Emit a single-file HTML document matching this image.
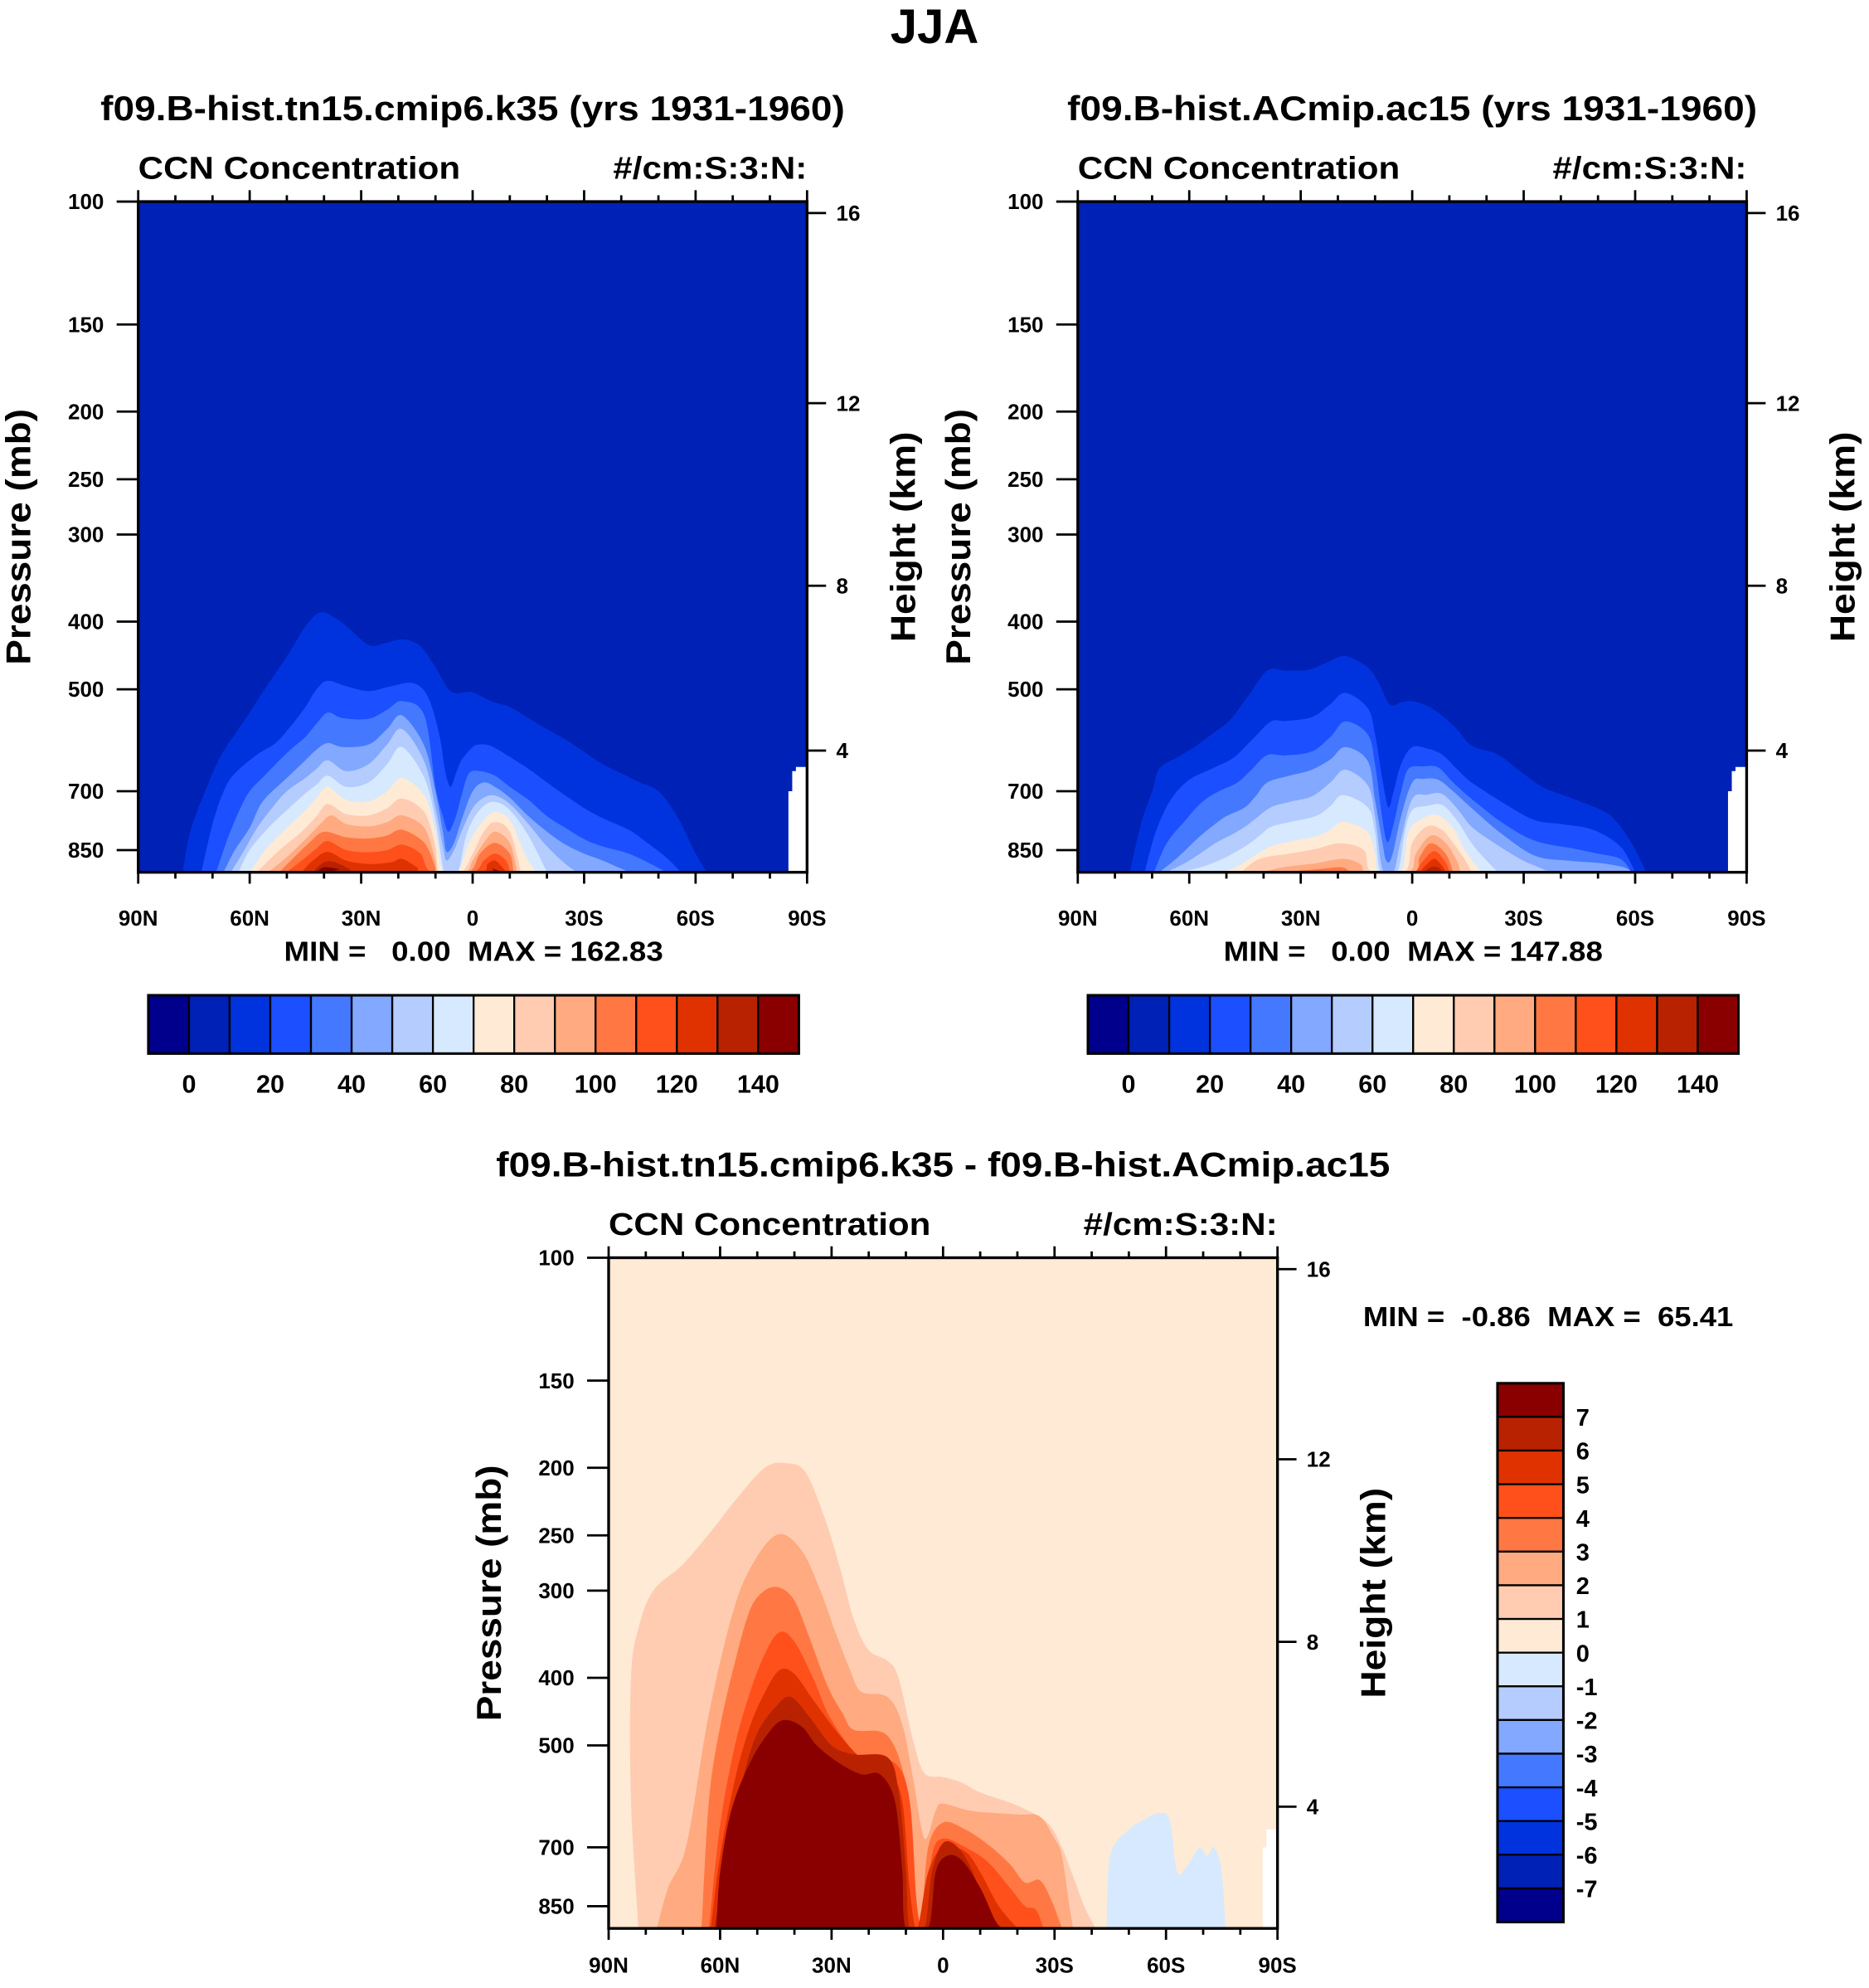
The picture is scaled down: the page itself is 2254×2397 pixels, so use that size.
<!DOCTYPE html>
<html><head><meta charset="utf-8">
<style>
html,body{margin:0;padding:0;background:#fff;}
svg{display:block;}
text{font-family:"Liberation Sans",sans-serif;font-weight:bold;fill:#000;}
</style></head>
<body>
<svg id="chart" xmlns="http://www.w3.org/2000/svg" width="2254" height="2397" viewBox="0 0 1474 1568" preserveAspectRatio="none">
<text x="737" y="34" font-size="38" text-anchor="middle">JJA</text>
<g id="panels"></g>
</svg>
<script>
// ---- colour scale (16 boxes) ----
const colors = ["#00008C","#0021B5","#0033DD","#1C4FFF","#4478FF","#82A8FF","#B4CCFF","#D6E9FF","#FFEAD6","#FFCCB2","#FFAA80","#FF7844","#FF501C","#E03200","#B82200","#8A0000"];
const topCbarLabels = ["0","20","40","60","80","100","120","140"];
const diffCbarLabels = ["7","6","5","4","3","2","1","0","-1","-2","-3","-4","-5","-6","-7"];
const xTickLabels = ["90N","60N","30N","0","30S","60S","90S"];
const pTicks = [100,150,200,250,300,400,500,700,850];
const hTickLabels = ["16","12","8","4"];
const P_BOT = 914;

// ---- tn15 panel: contour boundaries [lat, pressure(mb)] ----
const tn15L3 = [[78,914],[76,800],[72,700],[68,626],[64,580],[60,540],[56,500],[53,474],[49,440],[45,406],[41,388],[37,395],[34,406],[28,432],[24,430],[19,424],[15,430],[13,440],[10,465],[6,503],[2,505],[0,505],[-5,520],[-10,530],[-15,550],[-20,570],[-25,590],[-30,615],[-35,640],[-40,660],[-45,680],[-50,700],[-55,760],[-60,860],[-63,914]];
const tn15L4 = [[73,914],[70,780],[67,700],[64,660],[58,620],[53,597],[49,565],[45,530],[42,500],[39,486],[34,495],[28,503],[22,495],[16,490],[12,513],[9,580],[7.5,650],[6,690],[4.5,660],[3,632],[0,605],[-2,600],[-5,603],[-10,625],[-15,650],[-20,680],[-25,710],[-30,740],[-35,765],[-42,795],[-47,830],[-52,870],[-56,914]];
const tn15L5 = [[69,914],[66,820],[63,750],[60,700],[56,665],[53,640],[49,610],[45,585],[42,560],[39,540],[35,550],[28,551],[23,535],[19,520],[13,545],[10,690],[8,760],[6.5,800],[4.5,760],[3,710],[1,660],[-2,655],[-6,665],[-10,690],[-15,720],[-20,760],[-25,790],[-30,820],[-35,840],[-42,860],[-48,890],[-52,914]];
const tn15L6 = [[67,914],[64,850],[60,790],[56.5,724],[50,670],[45,632],[42,610],[39,597],[35,605],[28,600],[23,570],[19,545],[13,603],[10,700],[8,800],[7,855],[5,830],[3,770],[0,700],[-3,680],[-6,690],[-10,715],[-15,760],[-20,800],[-25,835],[-30,860],[-35,880],[-42,914]];
const tn15L7 = [[65,914],[62,860],[58,790],[54,740],[50,700],[45,670],[42,650],[39,632],[34,655],[28,640],[23,600],[19,570],[13,635],[10,740],[8,840],[7,880],[5,850],[3,800],[0,740],[-3,715],[-6,710],[-10,730],[-15,780],[-20,840],[-25,890],[-28,914]];
const tn15L8 = [[63,914],[60,850],[55,790],[50,745],[45,705],[42,685],[39,665],[34,690],[28,680],[23,640],[19,605],[13,670],[10,770],[8,900],[7,914],[4,914],[2,820],[0,770],[-3,735],[-6,725],[-10,745],[-15,810],[-20,914]];
const tn15L9 = [[60,914],[55,840],[50,790],[45,745],[42,715],[39,690],[34,720],[28,724],[23,700],[19,670],[13,710],[10,800],[8,914],[4,914],[1,830],[-3,770],[-6,750],[-10,770],[-14,860],[-17,914]];
const tn15L10 = [[58,914],[52,850],[46,800],[42,760],[39,730],[34,755],[28,758],[23,740],[19,717],[13,750],[10,840],[9,914],[3,914],[0,860],[-3,800],[-6,775],[-10,800],[-13,914]];
const tn15L11 = [[55,914],[50,870],[45,820],[41,780],[38,758],[34,780],[28,786],[23,775],[19,758],[13,790],[10,880],[9.5,914],[2,914],[0,880],[-3,830],[-6,800],[-10,830],[-12,914]];
const tn15L12 = [[52,914],[48,870],[44,830],[40,800],[34,815],[28,818],[23,810],[19,795],[13,830],[10,900],[9.5,914],[1,914],[-2,860],[-6,830],[-10,860],[-11,914]];
const tn15L13 = [[50,914],[46,880],[42,845],[39,825],[34,850],[28,856],[23,850],[19,835],[14,860],[11,914],[0,914],[-3,880],[-6,860],[-9,880],[-10,914]];
const tn15L14 = [[46,914],[43,880],[39,855],[34,880],[28,890],[22,885],[19,875],[15,900],[13,914],[-2,914],[-4,890],[-6,880],[-8,900],[-9,914]];
const tn15L15 = [[43,914],[40,885],[37,885],[33,905],[30,914],[-3,914],[-5,900],[-7,914]];
const tn15L16 = [[42,914],[40,900],[36,905],[34,914],[-4,914],[-5,905],[-6,914]];
const tn15Levels = [tn15L3,tn15L4,tn15L5,tn15L6,tn15L7,tn15L8,tn15L9,tn15L10,tn15L11,tn15L12,tn15L13,tn15L14,tn15L15,tn15L16];

// ---- ac15 panel ----
const ac15L3 = [[76,914],[73,780],[70,700],[68,649],[63,625],[58,602],[53,575],[49,553],[44,510],[39,470],[34,470],[28,469],[23,458],[18,448],[12,465],[9,490],[6,526],[3,522],[0,520],[-4,528],[-8,545],[-12,570],[-16,602],[-23,620],[-29,655],[-35,690],[-41,710],[-47,730],[-52,750],[-55,774],[-59,830],[-63,914]];
const ac15L4 = [[72,914],[69,800],[65,720],[60,674],[54,650],[48,626],[43,590],[38,556],[34,555],[27,548],[22,525],[18,506],[12,532],[10,580],[8,674],[6.4,738],[5,700],[3,640],[0,605],[-4,608],[-8,620],[-12,650],[-16,680],[-25,730],[-33,770],[-40,780],[-47,790],[-52,810],[-56,840],[-58,870],[-60,914]];
const ac15L5 = [[69.5,914],[66,830],[61,770],[56.5,725],[52,700],[47,680],[43,650],[39,621],[34,622],[27,614],[22,585],[18,556],[12,580],[10,640],[8.2,755],[6.7,828],[5,780],[3,700],[1,650],[-3,645],[-7,647],[-11,680],[-16,718],[-24,775],[-33,824],[-44,847],[-50,860],[-56,875],[-59,914]];
const ac15L6 = [[68,914],[63,870],[58,820],[54,787],[50,760],[45,738],[42,710],[39,680],[33,665],[27,652],[22,630],[18,605],[12,633],[10,720],[8,830],[7,880],[5.5,870],[3,760],[0,680],[-3,672],[-7,674],[-11,700],[-16,740],[-24,805],[-33,866],[-42,880],[-51,888],[-57,900],[-59,914]];
const ac15L7 = [[66,914],[60,880],[53,831],[49,810],[45,787],[42,765],[38,738],[33,725],[27,712],[22,680],[18,652],[12,686],[10,760],[8.5,880],[7.5,914],[5,914],[3,820],[0,718],[-4,708],[-8,706],[-12,740],[-16,787],[-22,830],[-29,875],[-33,895],[-37,914]];
const ac15L8 = [[63,914],[57,900],[51,875],[45,840],[41,810],[38,787],[33,775],[26,760],[22,735],[18.6,709],[12,738],[10,800],[8.5,914],[4,914],[2,800],[0,745],[-4,735],[-8,732],[-12,770],[-16,831],[-20,880],[-23,914]];
const ac15L9 = [[52,914],[48,903],[43,870],[38,840],[32,825],[26,813],[22,795],[18.6,774],[12,801],[10,860],[9,914],[3,914],[1,800],[-3,765],[-7,758],[-11,790],[-14,847],[-18.5,914]];
const ac15L10 = [[46,914],[41,875],[33,860],[26,847],[19.4,831],[13,850],[11,914],[2,914],[0,830],[-4,786],[-8,795],[-11,830],[-14,875],[-16,914]];
const ac15L11 = [[40,914],[35,900],[26,888],[18.6,875],[14,890],[12,914],[1,914],[-1,860],[-5,810],[-9,830],[-12,880],[-13,914]];
const ac15L12 = [[35,914],[25,905],[19,900],[15,914],[0,914],[-2,870],[-5,831],[-9,860],[-11,914]];
const ac15L13 = [[-1,914],[-3,880],[-6,853],[-9,885],[-10,914]];
const ac15L14 = [[-2,914],[-4,890],[-6,875],[-8,895],[-9,914]];
const ac15L15 = [[-3,914],[-5,900],[-7,900],[-8,914]];
const ac15Levels = [ac15L3,ac15L4,ac15L5,ac15L6,ac15L7,ac15L8,ac15L9,ac15L10,ac15L11,ac15L12,ac15L13,ac15L14,ac15L15];

// ---- difference panel ----
const diffL10 = [[82,914],[84,600],[84,400],[82,340],[78,300],[70,275],[62,245],[56,223],[48,200],[42,197],[37,203],[32,235],[28,275],[24,330],[20,365],[15,378],[12,400],[8,493],[5,548],[0,555],[-5,565],[-10,584],[-20,610],[-28,645],[-32,700],[-35,770],[-38,850],[-41,914]];
const diffL11 = [[77,914],[74,800],[69,693],[63,450],[56,315],[50,268],[44,249],[38,263],[33,300],[29,344],[25,390],[22,419],[15,426],[11,466],[8,560],[5,680],[2,620],[0,606],[-8,621],[-20,628],[-26,632],[-30,680],[-32,720],[-34,850],[-35,914]];
const diffL12 = [[65,914],[63,600],[60,470],[56,380],[52,320],[48,300],[44,297],[40,310],[36,350],[31,412],[27,450],[24,475],[15,484],[10,569],[8,750],[6,900],[4,700],[0,645],[-6,660],[-12,693],[-18,740],[-22,786],[-26,780],[-29,830],[-32,914]];
const diffL13 = [[63,914],[60,650],[56,500],[52,420],[48,370],[44,344],[40,355],[35,400],[31,450],[26,495],[22,520],[13,530],[9,600],[7,850],[5,914],[3,720],[0,680],[-6,700],[-12,734],[-18,800],[-22,849],[-25,860],[-27,914]];
const diffL14 = [[62.5,914],[60,720],[56,560],[52,470],[48,420],[44,390],[40,395],[35,430],[29,475],[24,510],[20,530],[15,540],[11,600],[9,800],[7,914],[4,760],[0,700],[-6,710],[-10,760],[-15,850],[-20,914]];
const diffL15 = [[61.5,914],[58,700],[54,560],[50,480],[45,440],[41,426],[36,455],[30,500],[24,515],[15,520],[12,580],[10,750],[9,914],[5,914],[3,760],[0,690],[-4,700],[-8,760],[-12,880],[-14,914]];
const diffL16 = [[61,914],[60,760],[57,620],[52,530],[47,480],[43,460],[38,470],[34,500],[28,530],[22,550],[17,550],[13,600],[11,750],[10,914],[4,914],[2,760],[-1,720],[-5,730],[-10,800],[-14,890],[-16,914]];
const diffLevels = [diffL10,diffL11,diffL12,diffL13,diffL14,diffL15,diffL16];
const diffNeg = [[-44,914],[-45,720],[-50,660],[-54,640],[-58,625],[-61,640],[-63,760],[-66,740],[-69,700],[-71,720],[-73,700],[-75,760],[-76,914]];
const missingTop = [[-85,914],[-85,700],[-86,700],[-86,655],[-87,655],[-87,646],[-90,646],[-90,914]];
const missingDiff = [[-86,914],[-86,700],[-87,700],[-87,660],[-90,660],[-90,914]];

const NS = "http://www.w3.org/2000/svg";
const root = document.getElementById("panels");
function mk(tag, attrs, parent){const e=document.createElementNS(NS,tag);for(const k in attrs)e.setAttribute(k,attrs[k]);(parent||root).appendChild(e);return e;}
function txt(s, attrs, parent){const e=mk("text",attrs,parent);e.textContent=s;return e;}

function panel(id, fx, fy, opts){
  const W=527.5, H=529;
  const xs = lat => fx + (90-lat)/180*W;
  const ys = p => fy + 239*Math.log(p/100);
  const g = mk("g",{});
  
  
  const clip = mk("clipPath",{id:id+"-clip"},g);
  mk("rect",{x:fx,y:fy,width:W,height:H},clip);
  const plot = mk("g",{"clip-path":"url(#"+id+"-clip)"},g);
  const bg = mk("rect",{x:fx,y:fy,width:W,height:H,fill:colors[opts.base]},plot);
  
  
  function smoothPath(arr){
    const pts = arr.map(d=>[xs(d[0]), Math.min(ys(d[1]), fy+H)]);
    let d = "M"+pts[0][0].toFixed(1)+","+(fy+H+3)+" L"+pts[0][0].toFixed(1)+","+pts[0][1].toFixed(1);
    for(let i=0;i<pts.length-1;i++){
      const p0=pts[i-1]||pts[i], p1=pts[i], p2=pts[i+1], p3=pts[i+2]||pts[i+1];
      const c1=[p1[0]+(p2[0]-p0[0])/6, p1[1]+(p2[1]-p0[1])/6];
      const c2=[p2[0]-(p3[0]-p1[0])/6, p2[1]-(p3[1]-p1[1])/6];
      d+=" C"+c1[0].toFixed(1)+","+c1[1].toFixed(1)+" "+c2[0].toFixed(1)+","+c2[1].toFixed(1)+" "+p2[0].toFixed(1)+","+p2[1].toFixed(1);
    }
    d+=" L"+pts[pts.length-1][0].toFixed(1)+","+(fy+H+3)+" Z";
    return d;
  }
  opts.levels.forEach((lv,i)=>{
    const path = mk("path",{d:smoothPath(lv),fill:colors[opts.first+i]},plot);
    
    
  });
  if(opts.neg){
    const np = mk("path",{d:smoothPath(opts.neg),fill:colors[7]},plot);
    
    
  }
  const mpts = opts.missing.map(d=>xs(d[0]).toFixed(1)+","+Math.min(ys(d[1]),fy+H).toFixed(1)).join(" ");
  const miss = mk("polygon",{points:mpts,fill:"#fff"},plot);
  
  
  const fr = mk("rect",{x:fx,y:fy,width:W,height:H,fill:"none",stroke:"#000","stroke-width":2.2},g);
  
  
  for(let lat=90; lat>=-90; lat-=10){
    const major = lat%30===0;
    const L = major?9:5;
    const x = xs(lat);
    mk("line",{x1:x,y1:fy+H,x2:x,y2:fy+H+L,stroke:"#000","stroke-width":1.8},g);
    mk("line",{x1:x,y1:fy,x2:x,y2:fy-L,stroke:"#000","stroke-width":1.8},g);
  }
  xTickLabels.forEach((s,i)=>{
    const t = txt(s,{x:fx+i*W/6,y:fy+H+42-(opts.cond?7:0),"font-size":17,"text-anchor":"middle"},g);
    
    
  });
  pTicks.forEach(p=>{
    const y = ys(p);
    mk("line",{x1:fx-17,y1:y,x2:fx,y2:y,stroke:"#000","stroke-width":1.8},g);
    const t = txt(String(p),{x:fx-27,y:y+6,"font-size":17,"text-anchor":"end"},g);
    
    
  });
  const hOff=[9,159,303,433];
  hTickLabels.forEach((s,i)=>{
    const y = fy+hOff[i];
    mk("line",{x1:fx+W,y1:y,x2:fx+W+15,y2:y,stroke:"#000","stroke-width":1.8},g);
    const t = txt(s,{x:fx+W+23,y:y+6,"font-size":17},g);
    
    
  });
  const cx = fx+W/2, cy = fy+H/2;
  function fitText(s, attrs, len, name){
    const t = txt(s, attrs, g);
    t.setAttribute("textLength",len);
    t.setAttribute("lengthAdjust","spacingAndGlyphs");
    
    
    return t;
  }
  fitText(opts.title,{x:cx,y:fy-64,"font-size":27,"text-anchor":"middle"},opts.titleLen,'panel-title');
  fitText("CCN Concentration",{x:fx,y:fy-18,"font-size":25},254,'left-string');
  fitText("#/cm:S:3:N:",{x:fx+W,y:fy-18,"font-size":25,"text-anchor":"end"},153,'right-string');
  fitText("Pressure (mb)",{x:0,y:0,"font-size":27,"text-anchor":"middle",transform:"translate("+(fx-85)+","+cy+") rotate(-90)"},202,'y-axis-title');
  fitText("Height (km)",{x:0,y:0,"font-size":27,"text-anchor":"middle",transform:"translate("+(fx+W+85)+","+cy+") rotate(-90)"},166,'right-axis-title');
  return g;
}

function topCbar(x0, y0){
  const g = mk("g",{});
  
  
  const bw = 513/16;
  colors.forEach((c,i)=>{
    const r = mk("rect",{x:x0+i*bw,y:y0,width:bw,height:46,fill:c,stroke:"#000","stroke-width":1.5},g);
    
    
  });
  mk("rect",{x:x0,y:y0,width:513,height:46,fill:"none",stroke:"#000","stroke-width":2},g);
  topCbarLabels.forEach((s,i)=>{
    const t = txt(s,{x:x0+(1+2*i)*bw,y:y0+77,"font-size":20,"text-anchor":"middle"},g);
    
    
  });
}

panel("tn15",109,159,{title:"f09.B-hist.tn15.cmip6.k35 (yrs 1931-1960)",titleLen:587,base:1,first:2,levels:tn15Levels,missing:missingTop});
const mm1 = txt("MIN =   0.00  MAX = 162.83",{x:224,y:758,"font-size":22,"textLength":299,"lengthAdjust":"spacingAndGlyphs"});


mm1.setAttribute("style","white-space:pre");
topCbar(117,785);

panel("ac15",850,159,{title:"f09.B-hist.ACmip.ac15 (yrs 1931-1960)",titleLen:544,base:1,first:2,levels:ac15Levels,missing:missingTop});
const mm2 = txt("MIN =   0.00  MAX = 147.88",{x:965,y:758,"font-size":22,"textLength":299,"lengthAdjust":"spacingAndGlyphs"});


mm2.setAttribute("style","white-space:pre");
topCbar(858,785);

panel("diff",480,992,{title:"f09.B-hist.tn15.cmip6.k35 - f09.B-hist.ACmip.ac15",titleLen:705,base:8,first:9,levels:diffLevels,neg:diffNeg,missing:missingDiff,cond:true});
const mm3 = txt("MIN =  -0.86  MAX =  65.41",{x:1075,y:1046,"font-size":22,"textLength":292,"lengthAdjust":"spacingAndGlyphs"});


mm3.setAttribute("style","white-space:pre");
(function(){
  const g = mk("g",{});
  
  
  const x0=1181,y0=1091,bh=425/16;
  for(let i=0;i<16;i++){
    const r = mk("rect",{x:x0,y:y0+i*bh,width:52,height:bh,fill:colors[15-i],stroke:"#000","stroke-width":1.5},g);
    
    
  }
  mk("rect",{x:x0,y:y0,width:52,height:425,fill:"none",stroke:"#000","stroke-width":2},g);
  diffCbarLabels.forEach((s,i)=>{
    const t = txt(s,{x:1243,y:y0+(i+1)*bh+7,"font-size":19},g);
    
    
  });
})();
</script>
</body></html>
